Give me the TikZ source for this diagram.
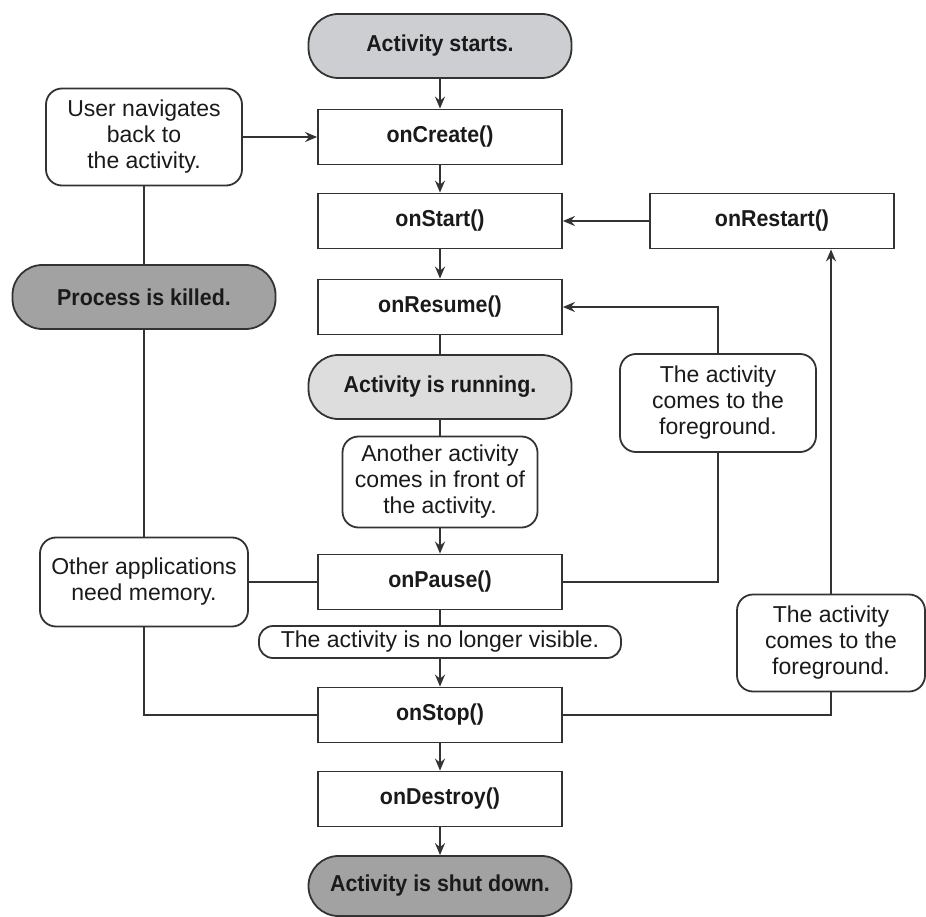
\documentclass[tikz,border=0pt]{standalone}
\usepackage{fontspec}
\setmainfont{Liberation Sans}
\newfontfamily\condfont[FakeStretch=0.93]{Liberation Sans}
\usepackage{xcolor}
\usetikzlibrary{arrows.meta,positioning}
\definecolor{linec}{HTML}{333333}
\definecolor{textc}{HTML}{1A1A1A}
\definecolor{lightc}{HTML}{CDCED1}
\definecolor{palec}{HTML}{DDDDDD}
\definecolor{darkc}{HTML}{A2A2A2}
\tikzset{
  ar/.style={-{Stealth[length=12pt,width=10pt,inset=4pt]},line width=1.8pt,linec},
  ln/.style={line width=1.8pt,linec},
  fn/.style={draw=linec,line width=1.8pt,fill=white,minimum width=244pt,minimum height=55pt,
    font=\condfont\bfseries\fontsize{23}{27}\selectfont,text=textc,inner sep=0pt},
  pill/.style={draw=linec,line width=1.8pt,rounded corners=30pt,minimum width=263pt,minimum height=64pt,
    font=\condfont\bfseries\fontsize{23}{27}\selectfont,text=textc,inner sep=0pt},
  note/.style={draw=linec,line width=1.8pt,fill=white,rounded corners=16pt,align=center,
    font=\fontsize{23}{26}\selectfont,text=textc,inner sep=0pt}
}
\begin{document}
\begin{tikzpicture}[x=1pt,y=-1pt]
\useasboundingbox[fill=white] (0,0) rectangle (926,917);
% main column
\node[pill,fill=lightc] (start) at (440,46) {Activity starts.};
\node[fn] (create) at (440,137) {onCreate()};
\node[fn] (onstart) at (440,221) {onStart()};
\node[fn] (resume) at (440,307) {onResume()};
\node[pill,fill=palec] (running) at (440,387) {Activity is running.};
\node[note,minimum width=195pt,minimum height=91pt] (another) at (440,482) {Another activity\\comes in front of\\the activity.};
\node[fn] (pause) at (440,582) {onPause()};
\node[note,rounded corners=14pt,minimum width=362pt,minimum height=32pt] (novis) at (440,642) {The activity is no longer visible.};
\node[fn] (stop) at (440,715) {onStop()};
\node[fn] (destroy) at (440,799) {onDestroy()};
\node[pill,fill=darkc,minimum height=60pt] (shut) at (440,886) {Activity is shut down.};
% left side
\node[note,minimum width=196pt,minimum height=97pt] (user) at (144,137) {User navigates\\back to\\the activity.};
\node[pill,fill=darkc] (killed) at (144,297) {Process is killed.};
\node[note,minimum width=208pt,minimum height=89pt] (other) at (144,582) {Other applications\\need memory.};
% right side
\node[fn] (restart) at (772,221) {onRestart()};
\node[note,minimum width=196pt,minimum height=98pt] (fga) at (718,403) {The activity\\comes to the\\foreground.};
\node[note,minimum width=188pt,minimum height=97pt] (fgb) at (831,643) {The activity\\comes to the\\foreground.};
% connectors
\draw[ar] (start) -- (create);
\draw[ar] (create) -- (onstart);
\draw[ar] (onstart) -- (resume);
\draw[ln] (resume) -- (running);
\draw[ln] (running) -- (another);
\draw[ar] (another) -- (pause);
\draw[ln] (pause) -- (novis);
\draw[ar] (novis) -- (stop);
\draw[ar] (stop) -- (destroy);
\draw[ar] (destroy) -- (shut);
\draw[ar] (user) -- (create);
\draw[ln] (user) -- (killed);
\draw[ln] (killed) -- (other);
\draw[ln] (other) -- (pause);
\draw[ln] (other.south) |- (stop.west);
\draw[ar] (restart) -- (onstart);
\draw[ln] (pause.east) -| (fga.south);
\draw[ar] (fga.north) |- (resume.east);
\draw[ln] (stop.east) -| (fgb.south);
\draw[ar] (fgb.north) -- (fgb.north |- restart.south);
\end{tikzpicture}
\end{document}
